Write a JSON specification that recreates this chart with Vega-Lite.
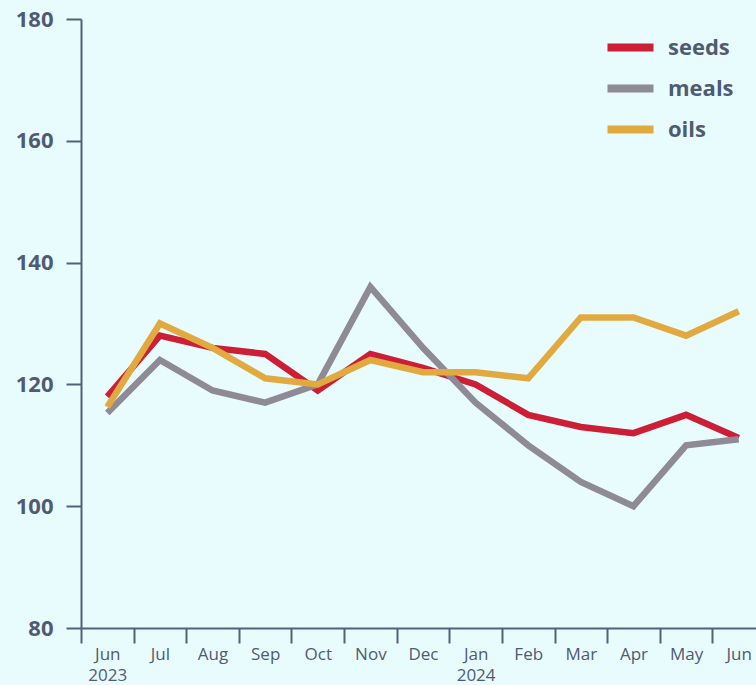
{
  "$schema": "https://vega.github.io/schema/vega-lite/v6.json",
  "width": 675,
  "height": 609,
  "autosize": {"type": "none"},
  "padding": {"left": 81, "top": 19, "right": 0, "bottom": 57},
  "background": "#e9fcfd",
  "config": {"view": {"stroke": null}, "font": "Open Sans"},
  "data": {
    "values": [
      {"month": "Jun 2023", "series": "seeds", "value": 118},
      {"month": "Jul", "series": "seeds", "value": 128},
      {"month": "Aug", "series": "seeds", "value": 126},
      {"month": "Sep", "series": "seeds", "value": 125},
      {"month": "Oct", "series": "seeds", "value": 119},
      {"month": "Nov", "series": "seeds", "value": 125},
      {"month": "Dec", "series": "seeds", "value": 122.7},
      {"month": "Jan 2024", "series": "seeds", "value": 120},
      {"month": "Feb", "series": "seeds", "value": 115},
      {"month": "Mar", "series": "seeds", "value": 113},
      {"month": "Apr", "series": "seeds", "value": 112},
      {"month": "May", "series": "seeds", "value": 115},
      {"month": "Jun", "series": "seeds", "value": 111.2},
      {"month": "Jun 2023", "series": "meals", "value": 115.3},
      {"month": "Jul", "series": "meals", "value": 124},
      {"month": "Aug", "series": "meals", "value": 119},
      {"month": "Sep", "series": "meals", "value": 117},
      {"month": "Oct", "series": "meals", "value": 120},
      {"month": "Nov", "series": "meals", "value": 136},
      {"month": "Dec", "series": "meals", "value": 126},
      {"month": "Jan 2024", "series": "meals", "value": 117},
      {"month": "Feb", "series": "meals", "value": 110},
      {"month": "Mar", "series": "meals", "value": 104},
      {"month": "Apr", "series": "meals", "value": 100},
      {"month": "May", "series": "meals", "value": 110},
      {"month": "Jun", "series": "meals", "value": 111},
      {"month": "Jun 2023", "series": "oils", "value": 116.3},
      {"month": "Jul", "series": "oils", "value": 130},
      {"month": "Aug", "series": "oils", "value": 126},
      {"month": "Sep", "series": "oils", "value": 121},
      {"month": "Oct", "series": "oils", "value": 120},
      {"month": "Nov", "series": "oils", "value": 124},
      {"month": "Dec", "series": "oils", "value": 122},
      {"month": "Jan 2024", "series": "oils", "value": 122},
      {"month": "Feb", "series": "oils", "value": 121},
      {"month": "Mar", "series": "oils", "value": 131},
      {"month": "Apr", "series": "oils", "value": 131},
      {"month": "May", "series": "oils", "value": 128},
      {"month": "Jun", "series": "oils", "value": 132}
    ]
  },
  "mark": {"type": "line", "strokeWidth": 6.5, "clip": false},
  "encoding": {
    "x": {
      "field": "month",
      "type": "ordinal",
      "sort": null,
      "bandPosition": 0.5,
      "scale": {
        "type": "band",
        "domain": ["Jun 2023", "Jul", "Aug", "Sep", "Oct", "Nov", "Dec", "Jan 2024", "Feb", "Mar", "Apr", "May", "Jun"],
        "range": [0, 684],
        "paddingInner": 0,
        "paddingOuter": 0
      },
      "axis": {
        "title": null,
        "tickBand": "extent",
        "tickSize": 15,
        "tickWidth": 2,
        "tickColor": "#536078",
        "domainColor": "#536078",
        "domainWidth": 2,
        "labelAngle": 0,
        "labelPadding": 3,
        "labelFontSize": 17,
        "labelLineHeight": 21,
        "labelColor": "#4f5b72",
        "labelExpr": "isValid(datum.value) ? split(datum.value, ' ') : ''",
        "grid": false
      }
    },
    "y": {
      "field": "value",
      "type": "quantitative",
      "scale": {"domain": [80, 180], "nice": false, "zero": false},
      "axis": {
        "title": null,
        "values": [80, 100, 120, 140, 160, 180],
        "tickSize": 15,
        "tickWidth": 2,
        "tickColor": "#536078",
        "domainColor": "#536078",
        "domainWidth": 2,
        "labelPadding": 13,
        "labelFontSize": 22,
        "labelFontWeight": "bold",
        "labelColor": "#4f5b72",
        "grid": false
      }
    },
    "color": {
      "field": "series",
      "type": "nominal",
      "scale": {"domain": ["seeds", "meals", "oils"], "range": ["#cc1f36", "#8e8a96", "#e1aa40"]},
      "legend": {
        "title": null,
        "orient": "none",
        "legendX": 534,
        "legendY": 13,
        "padding": 0,
        "symbolType": "M-2,0H2",
        "symbolSize": 529,
        "symbolStrokeWidth": 8,
        "labelFontSize": 22,
        "labelFontWeight": "bold",
        "labelColor": "#4f5b72",
        "labelOffset": 22,
        "rowPadding": 8
      }
    }
  }
}
